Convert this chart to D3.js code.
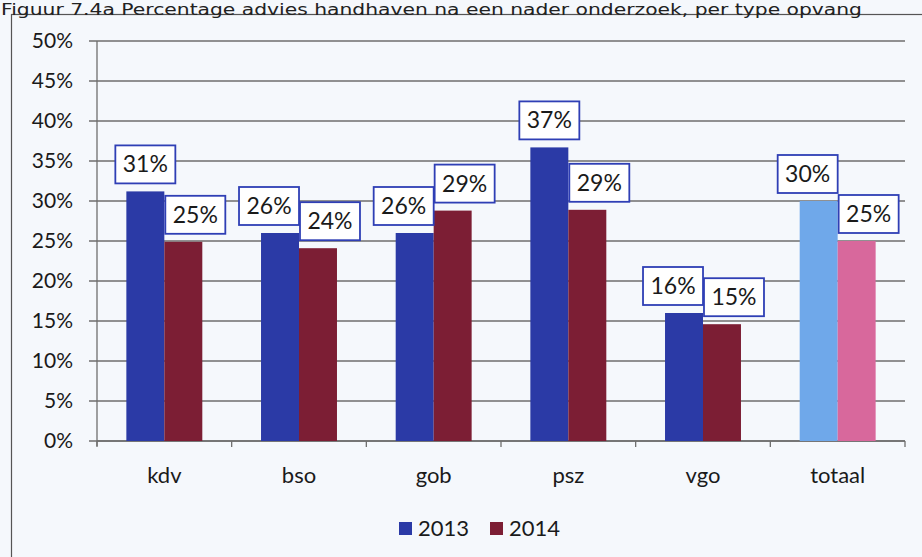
<!DOCTYPE html>
<html><head><meta charset="utf-8">
<script src="https://cdn.jsdelivr.net/npm/d3@7"></script>
<style>body{margin:0;background:#f5f8fc;}svg{display:block;}</style>
</head><body><svg id="c" width="922" height="557"></svg>
<script>
const title = "Figuur 7.4a Percentage advies handhaven na een nader onderzoek, per type opvang";
const categories = ["kdv","bso","gob","psz","vgo","totaal"];
const series = ["2013","2014"];
const values2013 = [31.2, 26.0, 26.0, 36.7, 16.0, 30.0];
const values2014 = [24.9, 24.1, 28.8, 28.9, 14.6, 25.0];
const labels2013 = ["31%","26%","26%","37%","16%","30%"];
const labels2014 = ["25%","24%","29%","29%","15%","25%"];
const yTicks = [0,5,10,15,20,25,30,35,40,45,50];

(function(){
const colors = {"2013":"#2b3aa6","2014":"#7c1e34"};
const totalColors = {"2013":"#6fa8ea","2014":"#d8689c"};
const FONT = "Lato, 'Open Sans', sans-serif";

const svg = d3.select("#c");
const W = 922, H = 557;
const pL = 97, pR = 905, pT = 41, pB = 441;

svg.append("rect").attr("width",W).attr("height",H).attr("fill","#f5f8fc");
svg.append("rect").attr("x",11.5).attr("y",14.5).attr("width",930).attr("height",560)
  .attr("fill","none").attr("stroke","#555").attr("stroke-width",1.2);

svg.append("text").attr("x",1).attr("y",15).attr("font-family","DejaVu Sans")
  .attr("font-size",15).attr("fill","#222").attr("textLength",861).attr("lengthAdjust","spacingAndGlyphs").text(title);

const x = d3.scaleBand().domain(categories).range([pL,pR]).padding(0);
const y = d3.scaleLinear().domain([0,50]).range([pB,pT]);
const bw = x.bandwidth()*0.282;

svg.append("g").selectAll("line").data(yTicks).join("line")
  .attr("x1",pL-8).attr("x2",pR).attr("y1",d=>y(d)).attr("y2",d=>y(d))
  .attr("stroke","#6e6e6e").attr("stroke-width",1.3);

const yAxis = d3.axisLeft(y).tickValues(yTicks).tickFormat(d=>d+"%").tickSize(0).tickPadding(24);
const gy = svg.append("g").attr("transform",`translate(${pL},0)`).call(yAxis);
gy.select(".domain").remove();
gy.selectAll("text").attr("font-family",FONT).attr("font-size",21).attr("fill","#1a1a1a");
svg.append("line").attr("x1",pL).attr("x2",pL).attr("y1",pT).attr("y2",pB+5)
  .attr("stroke","#6e6e6e").attr("stroke-width",1.3);

const xAxis = d3.axisBottom(x).tickSize(0).tickPadding(26);
const gx = svg.append("g").attr("transform",`translate(0,${pB})`).call(xAxis);
gx.select(".domain").remove();
gx.selectAll("text").attr("font-family",FONT).attr("font-size",22).attr("fill","#1a1a1a");
const bounds = categories.map(c=>x(c)).concat([pR]);
svg.append("g").selectAll("line").data(bounds).join("line")
  .attr("x1",d=>d).attr("x2",d=>d).attr("y1",pB).attr("y2",pB+6)
  .attr("stroke","#6e6e6e").attr("stroke-width",1.3);
svg.append("line").attr("x1",pL).attr("x2",pR).attr("y1",pB).attr("y2",pB)
  .attr("stroke","#6e6e6e").attr("stroke-width",1.3);

const rows = categories.map((c,i)=>({c,i,v:[values2013[i],values2014[i]],l:[labels2013[i],labels2014[i]]}));
const barX = (d,s)=> x(d.c)+x.bandwidth()/2 - bw + s*bw;
const fillFor = (d,s)=> d.c==="totaal" ? totalColors[series[s]] : colors[series[s]];

series.forEach((ser,s)=>{
  svg.append("g").selectAll("rect").data(rows).join("rect")
    .attr("x",d=>barX(d,s)).attr("width",bw)
    .attr("y",d=>y(d.v[s])).attr("height",d=>pB-y(d.v[s]))
    .attr("fill",d=>fillFor(d,s));
});

const bwBox = 60, bhBox = 38;
series.forEach((ser,s)=>{
  const g = svg.append("g").selectAll("g").data(rows).join("g")
    .attr("transform",d=>{
      const cx = barX(d,s)+bw/2;
      const close = Math.abs(d.v[0]-d.v[1]) < 5.5;
      const dx = s===0 ? (close ? -11 : 0) : 12;
      return `translate(${cx+dx},${y(d.v[s])-8})`;
    });
  g.append("rect").attr("x",-bwBox/2).attr("y",-bhBox).attr("width",bwBox).attr("height",bhBox)
    .attr("fill","#ffffff").attr("stroke","#2f3fb5").attr("stroke-width",1.8);
  g.append("text").attr("x",0).attr("y",-bhBox/2+8).attr("text-anchor","middle")
    .attr("font-family",FONT).attr("font-size",23).attr("fill","#1a1a1a")
    .text(d=>d.l[s]);
});

const legend = svg.append("g").attr("transform","translate(399,522)");
series.forEach((ser,s)=>{
  const lg = legend.append("g").attr("transform",`translate(${s*91},0)`);
  lg.append("rect").attr("width",13).attr("height",13).attr("fill",colors[ser]);
  lg.append("text").attr("x",19).attr("y",14).attr("font-family",FONT)
    .attr("font-size",22).attr("fill","#1a1a1a").text(ser);
});
})();
</script></body></html>
